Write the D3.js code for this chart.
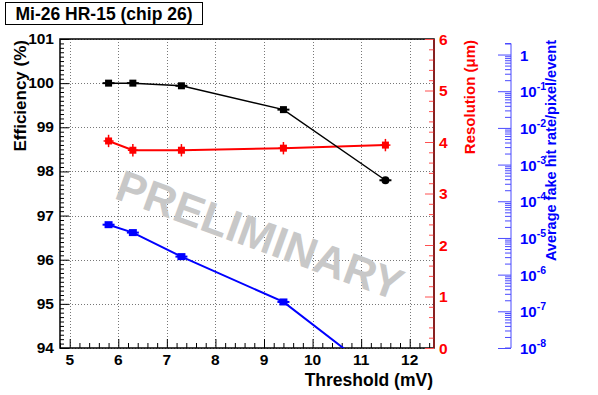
<!DOCTYPE html>
<html>
<head>
<meta charset="utf-8">
<script src="https://cdn.jsdelivr.net/npm/d3@7"></script>
<style>
  body { margin: 0; background: #fff; }
  svg { display: block; font-family: 'Liberation Sans', Arial, sans-serif; font-weight: bold; }
</style>
</head>
<body>
<div id="chart"></div>
<script>
const thresholds = [5.8, 6.3, 7.3, 9.4, 11.5];
const efficiency = [100.0, 100.0, 99.94, 99.4, 97.8];
const effErr = [0.02, 0.02, 0.02, 0.03, 0.03];
const resolution = [4.02, 3.84, 3.84, 3.88, 3.94];
const resErr = [0.12, 0.12, 0.12, 0.12, 0.12];
const fakeRate = [2.3e-5, 1.4e-5, 3.1e-6, 1.8e-7, 1.3e-9];
const xTicks = [5, 6, 7, 8, 9, 10, 11, 12];
const effTicks = [94, 95, 96, 97, 98, 99, 100, 101];
const resTicks = [0, 1, 2, 3, 4, 5, 6];
const fakeExps = [-8, -7, -6, -5, -4, -3, -2, -1, 0];

const W = 598, H = 395;
const L = 60, R = 434, T = 39, B = 348;
const RED = '#ff0000', BLUE = '#0000ff';

const svg = d3.select('#chart').append('svg').attr('width', W).attr('height', H);

const x = d3.scaleLinear().domain([4.8, 12.5]).range([L, R]);
const yEff = d3.scaleLinear().domain([94, 101]).range([B, T]);
const yRes = d3.scaleLinear().domain([0, 6]).range([B, T]);
const yFake = d3.scaleLog().domain([1e-8, 2]).range([B, 43.5]);

// title box
svg.append('rect').attr('x', 5.5).attr('y', 2.5).attr('width', 197).attr('height', 22)
  .attr('fill', '#fff').attr('stroke', '#000').attr('stroke-width', 1);
svg.append('text').attr('x', 104).attr('y', 20).attr('text-anchor', 'middle')
  .attr('font-size', 17.5).text('Mi-26 HR-15 (chip 26)');

// grid
const grid = svg.append('g').attr('stroke', '#777').attr('stroke-dasharray', '1,2').attr('stroke-width', 1);
xTicks.forEach(v => grid.append('line').attr('x1', Math.round(x(v)) + 0.5).attr('x2', Math.round(x(v)) + 0.5).attr('y1', T).attr('y2', B));
effTicks.forEach(v => grid.append('line').attr('y1', Math.round(yEff(v)) + 0.5).attr('y2', Math.round(yEff(v)) + 0.5).attr('x1', L).attr('x2', R));

// watermark
svg.append('text').attr('transform', 'translate(113,198) rotate(20)')
  .attr('font-size', 44).attr('fill', '#c8c8c8').text('PRELIMINARY');

// x axis (ticks pointing up)
const xAxis = svg.append('g').attr('transform', `translate(0,${B})`);
xAxis.call(d3.axisTop(x).tickValues(d3.range(48, 126, 2).map(d => d / 10)).tickSize(5).tickFormat(''));
xAxis.call(g => g.selectAll('.tick line').filter(d => Math.abs(d - Math.round(d)) < 1e-6).attr('y2', -9));
xAxis.select('.domain').remove();
xTicks.forEach(v => svg.append('text').attr('x', x(v)).attr('y', 365).attr('text-anchor', 'middle')
  .attr('font-size', 15.5).text(v));
svg.append('text').attr('x', 433).attr('y', 386).attr('text-anchor', 'end').attr('font-size', 17.5).text('Threshold (mV)');

// left efficiency axis (ticks pointing right)
const yAxis = svg.append('g').attr('transform', `translate(${L},0)`);
yAxis.call(d3.axisRight(yEff).tickValues(d3.range(940, 1011, 1).map(d => d / 10)).tickSize(4).tickFormat(''));
yAxis.call(g => g.selectAll('.tick line').filter(d => Math.abs(d - Math.round(d)) < 1e-6).attr('x2', 9));
yAxis.select('.domain').remove();
effTicks.forEach(v => svg.append('text').attr('x', 54).attr('y', yEff(v) + 5).attr('text-anchor', 'end')
  .attr('font-size', 15.5).text(v));
svg.append('text').attr('transform', 'translate(26,40) rotate(-90)').attr('text-anchor', 'end')
  .attr('font-size', 17).text('Efficiency (%)');

// frame
svg.append('rect').attr('x', L).attr('y', T).attr('width', R - L).attr('height', B - T)
  .attr('fill', 'none').attr('stroke', '#000').attr('stroke-width', 1.5);

// right resolution axis
const rAxis = svg.append('g').attr('transform', `translate(${R},0)`);
rAxis.call(d3.axisLeft(yRes).tickValues(d3.range(0, 61, 2).map(d => d / 10)).tickSize(5).tickFormat(''));
rAxis.call(g => g.selectAll('.tick line').attr('stroke', '#ff5050').filter(d => Math.abs(d - Math.round(d)) < 1e-6).attr('x2', -9));
rAxis.select('.domain').remove();
svg.append('line').attr('x1', R).attr('x2', R).attr('y1', T).attr('y2', B).attr('stroke', '#a01818').attr('stroke-width', 1.5);
resTicks.forEach(v => svg.append('text').attr('x', 439).attr('y', yRes(v) + 5.5).attr('fill', RED)
  .attr('font-size', 15.5).text(v));
svg.append('text').attr('transform', 'translate(475,40) rotate(-90)').attr('text-anchor', 'end')
  .attr('fill', RED).attr('font-size', 15).text('Resolution (\u03bcm)');

// blue log axis
const fAxis = svg.append('g').attr('transform', 'translate(511,0)');
const fMinor = [];
fakeExps.forEach(e => d3.range(1, 10).forEach(m => { const v = m * Math.pow(10, e); if (v <= 2) fMinor.push(v); }));
fAxis.call(d3.axisLeft(yFake).tickValues(fMinor).tickSize(6).tickFormat(''));
fAxis.call(g => g.selectAll('.tick line').attr('stroke', '#4a4aff')
  .filter(d => Math.abs(Math.log10(d) - Math.round(Math.log10(d))) < 1e-6).attr('x2', -13));
fAxis.select('.domain').attr('stroke', '#4a4aff').attr('d', `M-6,${B}H0V43.5H-6`);
fakeExps.forEach(e => {
  const t = svg.append('text').attr('x', 520).attr('y', yFake(Math.pow(10, e)) + 6).attr('fill', BLUE).attr('font-size', 15);
  if (e === 0) { t.text('1'); return; }
  t.append('tspan').text('10');
  t.append('tspan').attr('dy', -7).attr('font-size', 10.5).text(e);
});
svg.append('text').attr('transform', 'translate(556,40) rotate(-90)').attr('text-anchor', 'end')
  .attr('fill', BLUE).attr('font-size', 14.5).text('Average fake hit rate/pixel/event');

// data
svg.append('clipPath').attr('id', 'plotclip').append('rect')
  .attr('x', L).attr('y', T).attr('width', R - L).attr('height', B - T);
const plot = svg.append('g').attr('clip-path', 'url(#plotclip)');
const idx = d3.range(thresholds.length);

// blue
plot.append('path').datum(idx).attr('fill', 'none').attr('stroke', BLUE).attr('stroke-width', 2)
  .attr('d', d3.line().x(i => x(thresholds[i])).y(i => yFake(fakeRate[i])));
idx.filter(i => fakeRate[i] >= 1e-8).forEach(i => {
  const cx = x(thresholds[i]), cy = yFake(fakeRate[i]);
  plot.append('line').attr('x1', cx - 6).attr('x2', cx + 6).attr('y1', cy).attr('y2', cy).attr('stroke', BLUE).attr('stroke-width', 2);
  plot.append('rect').attr('x', cx - 4).attr('y', cy - 3.5).attr('width', 8).attr('height', 7).attr('fill', BLUE);
});

// red
plot.append('path').datum(idx).attr('fill', 'none').attr('stroke', RED).attr('stroke-width', 2)
  .attr('d', d3.line().x(i => x(thresholds[i])).y(i => yRes(resolution[i])));
idx.forEach(i => {
  const cx = x(thresholds[i]), cy = yRes(resolution[i]);
  const y1 = yRes(resolution[i] + resErr[i]), y2 = yRes(resolution[i] - resErr[i]);
  plot.append('line').attr('x1', cx).attr('x2', cx).attr('y1', y1).attr('y2', y2).attr('stroke', RED).attr('stroke-width', 1.5);
  plot.append('line').attr('x1', cx - 5).attr('x2', cx + 5).attr('y1', cy).attr('y2', cy).attr('stroke', RED).attr('stroke-width', 1.5);
  plot.append('rect').attr('x', cx - 3.5).attr('y', cy - 3.5).attr('width', 7).attr('height', 7).attr('fill', RED);
});

// black
plot.append('path').datum(idx).attr('fill', 'none').attr('stroke', '#000').attr('stroke-width', 1.5)
  .attr('d', d3.line().x(i => x(thresholds[i])).y(i => yEff(efficiency[i])));
idx.forEach(i => {
  const cx = x(thresholds[i]), cy = yEff(efficiency[i]);
  plot.append('line').attr('x1', cx - 6).attr('x2', cx + 6).attr('y1', cy).attr('y2', cy).attr('stroke', '#000').attr('stroke-width', 2);
  if (i === idx.length - 1) plot.append('circle').attr('cx', cx).attr('cy', cy).attr('r', 4).attr('fill', '#000');
  else plot.append('rect').attr('x', cx - 3.5).attr('y', cy - 3.5).attr('width', 7).attr('height', 7).attr('fill', '#000');
});
</script>
</body>
</html>
